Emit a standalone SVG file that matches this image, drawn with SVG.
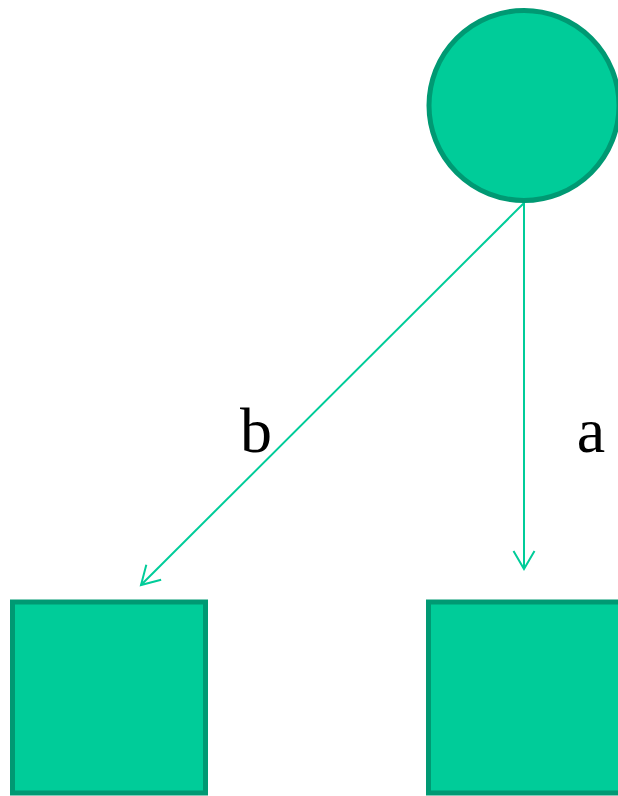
<svg xmlns="http://www.w3.org/2000/svg" width="618" height="796" viewBox="0 0 618 796">
  <style>
    .node { fill: #00CC99; stroke: #009973; stroke-width: 5; }
    .edge { fill: none; stroke: #00CC99; stroke-width: 2; }
    .label { font-family: "Liberation Serif", "Times New Roman", serif; font-size: 64px; fill: #000000; text-anchor: middle; }
  </style>
  <defs>
    <marker id="arrow" markerUnits="userSpaceOnUse" markerWidth="30" markerHeight="30" viewBox="-22 -15 30 30" refX="0" refY="0" orient="auto" overflow="visible">
      <path d="M -18,-10.5 L 0,0 L -18,10.5" fill="none" stroke="#00CC99" stroke-width="2"/>
    </marker>
  </defs>
  <rect width="618" height="796" fill="#ffffff"/>
  <g id="connectors">
    <line class="edge" x1="524" y1="203" x2="524" y2="569" marker-end="url(#arrow)"/>
    <line class="edge" x1="524" y1="203" x2="141" y2="585" marker-end="url(#arrow)"/>
    <text class="label" x="256" y="452">b</text>
    <text class="label" x="591" y="452">a</text>
  </g>
  <g id="node-top">
    <circle class="node" cx="524" cy="105.5" r="95"/>
  </g>
  <g id="node-left">
    <rect class="node" x="12.5" y="602" width="193" height="191"/>
  </g>
  <g id="node-right">
    <rect class="node" x="428.5" y="602" width="193" height="191"/>
  </g>
</svg>
